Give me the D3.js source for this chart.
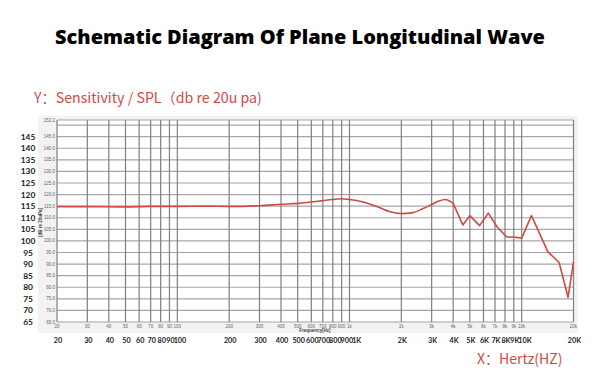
<!DOCTYPE html>
<html>
<head>
<meta charset="utf-8">
<script src="https://cdn.jsdelivr.net/npm/d3@7"></script>
<style>
  body { margin: 0; background: #fff; }
  svg { display: block; }
</style>
</head>
<body>
<div class="container"></div>
<script>
// frequency response
var freqs = [20, 30, 50, 70, 100, 150, 200, 300, 400, 500, 600, 700, 800, 900, 1000,
  1200, 1500, 1700, 2000, 2300, 2700, 3000, 3300, 3600, 4000, 4550, 5000, 5700,
  6400, 7200, 8200, 9000, 10000, 11400, 14200, 16500, 18600, 20000];
var spl = [114.8, 114.8, 114.7, 114.9, 114.9, 115.0, 114.9, 115.2, 115.8, 116.2, 116.8, 117.4, 117.9, 118.2, 117.9,
  116.8, 114.3, 112.7, 111.8, 112.1, 114.1, 115.7, 117.2, 117.9, 116.2, 106.9, 110.9, 106.6,
  112.0, 106.0, 101.7, 101.7, 101.2, 110.9, 95.3, 90.7, 75.6, 91.0];

// grid / ticks
var gridFreqs = [20, 30, 40, 50, 60, 70, 80, 90, 100, 200, 300, 400, 500, 600, 700, 800, 900,
  1000, 2000, 3000, 4000, 5000, 6000, 7000, 8000, 9000, 10000, 20000];
var innerXLabels = ["20", "30", "40", "50", "60", "70", "80", "90", "100", "200", "300", "400", "500", "600", "700", "800", "900",
  "1k", "2k", "3k", "4k", "5k", "6k", "7k", "8k", "9k", "10k", "20k"];
var outerXLabels = ["20", "30", "40", "50", "60", "70", "80", "90", "100", "200", "300", "400", "500", "600", "700", "800", "900",
  "1K", "2K", "3K", "4K", "5K", "6K", "7K", "8K", "9K", "10K", "20K"];
var gridLevels = [65, 70, 75, 80, 85, 90, 95, 100, 105, 110, 115, 120, 125, 130, 135, 140, 145, 150, 152.2];
var innerYLabels = [65, 70, 75, 80, 85, 90, 95, 100, 105, 110, 115, 120, 125, 130, 135, 140, 145, 152.2];
var outerYLabels = [145, 140, 135, 130, 125, 120, 115, 110, 105, 100, 95, 90, 85, 80, 75, 70, 65];

var W = 600, H = 392;
var red = "#cf4a45";

var svg = d3.select(".container").append("svg")
  .attr("width", W)
  .attr("height", H);

var x = d3.scaleLog().domain([20, 20000]).range([57, 573.5]);
var y = d3.scaleLinear().domain([65, 152.2]).range([322, 120]);

// title - fit to the width it has in the original
var title = svg.append("text")
  .attr("x", 300).attr("y", 44)
  .attr("text-anchor", "middle")
  .style("font-family", "'Open Sans', sans-serif")
  .style("font-weight", 800)
  .style("font-size", "19px")
  .style("fill", "#000")
  .text("Schematic Diagram Of Plane Longitudinal Wave");
var tw = title.node().getComputedTextLength();
title.style("font-size", (19 * 490 / tw) + "px");

svg.append("text")
  .attr("x", 34).attr("y", 103)
  .style("font-family", "'Noto Sans CJK SC', 'Noto Sans', sans-serif")
  .style("font-size", "14.2px")
  .style("fill", red)
  .text("Y：Sensitivity / SPL（db re 20u pa)");

svg.append("text")
  .attr("x", 477).attr("y", 364)
  .style("font-family", "'Noto Sans CJK SC', 'Noto Sans', sans-serif")
  .style("font-size", "14px")
  .style("fill", red)
  .text("X：Hertz(HZ)");

// grey panel behind the plot
svg.append("rect")
  .attr("x", 38).attr("y", 116)
  .attr("width", 540).attr("height", 217)
  .style("fill", "#f2f2f2");

svg.append("rect")
  .attr("x", x(20)).attr("y", y(152.2))
  .attr("width", x(20000) - x(20)).attr("height", y(65) - y(152.2))
  .style("fill", "#fff");

var grid = svg.append("g");

grid.selectAll("line.h")
  .data(gridLevels)
  .enter().append("line")
  .attr("class", "h")
  .attr("x1", x(20)).attr("x2", x(20000))
  .attr("y1", function(d) { return y(d); })
  .attr("y2", function(d) { return y(d); })
  .style("stroke", "#a6a6a6")
  .style("stroke-width", 1.2);

grid.selectAll("line.v")
  .data(gridFreqs)
  .enter().append("line")
  .attr("class", "v")
  .attr("x1", function(d) { return x(d); })
  .attr("x2", function(d) { return x(d); })
  .attr("y1", y(152.2)).attr("y2", y(65))
  .style("stroke", "#7f7f7f")
  .style("stroke-width", 1.2);

// tiny inner tick labels
svg.selectAll("text.iy")
  .data(innerYLabels)
  .enter().append("text")
  .attr("class", "iy")
  .attr("x", 55).attr("y", function(d) { return y(d) + 1.5; })
  .attr("text-anchor", "end")
  .style("font-family", "'Liberation Sans', sans-serif")
  .style("font-size", "4.5px")
  .style("fill", "#666")
  .text(function(d) { return d.toFixed(1); });

svg.selectAll("text.ix")
  .data(gridFreqs)
  .enter().append("text")
  .attr("class", "ix")
  .attr("x", function(d) { return x(d); })
  .attr("y", 328)
  .attr("text-anchor", "middle")
  .style("font-family", "'Liberation Sans', sans-serif")
  .style("font-size", "4.5px")
  .style("fill", "#666")
  .text(function(d, i) { return innerXLabels[i]; });

svg.append("text")
  .attr("x", 315).attr("y", 332)
  .attr("text-anchor", "middle")
  .style("font-family", "'Liberation Sans', sans-serif")
  .style("font-size", "4.5px")
  .style("font-weight", "bold")
  .style("fill", "#444")
  .text("Frequency[Hz]");

svg.append("text")
  .attr("transform", "translate(42," + y(108) + ") rotate(-90)")
  .attr("text-anchor", "middle")
  .style("font-family", "'Liberation Sans', sans-serif")
  .style("font-size", "4.5px")
  .style("font-weight", "bold")
  .style("fill", "#444")
  .text("[dB re 20uPa]");

// outer labels
svg.selectAll("text.oy")
  .data(outerYLabels)
  .enter().append("text")
  .attr("class", "oy")
  .attr("x", 28).attr("y", function(d) { return y(d) + 3; })
  .attr("text-anchor", "middle")
  .style("font-family", "Lato, sans-serif")
  .style("font-weight", 700)
  .style("font-size", "8.4px")
  .style("fill", "#222")
  .text(function(d) { return d; });

var ox = svg.selectAll("text.ox")
  .data(gridFreqs)
  .enter().append("text")
  .attr("class", "ox")
  .attr("y", 343)
  .attr("text-anchor", "middle")
  .style("font-family", "Lato, sans-serif")
  .style("font-weight", 700)
  .style("font-size", "7.2px")
  .style("fill", "#222")
  .text(function(d, i) { return outerXLabels[i]; });

// push crowded labels right so they just touch
var prevRight = -Infinity;
ox.each(function(d) {
  var w = this.getComputedTextLength();
  var cx = Math.max(x(d) + 1, prevRight - 1 + w / 2);
  d3.select(this).attr("x", cx);
  prevRight = cx + w / 2;
});

// response curve: smooth below 4k, straight segments above
var split = freqs.indexOf(4000);
var pts = freqs.map(function(f, i) { return [x(f), y(spl[i])]; });

svg.append("path")
  .datum(pts.slice(0, split + 1))
  .attr("d", d3.line().curve(d3.curveMonotoneX))
  .style("fill", "none")
  .style("stroke", red)
  .style("stroke-width", 1.6);

svg.append("path")
  .datum(pts.slice(split))
  .attr("d", d3.line())
  .style("fill", "none")
  .style("stroke", red)
  .style("stroke-width", 1.6)
  .style("stroke-linejoin", "round");
</script>
</body>
</html>
